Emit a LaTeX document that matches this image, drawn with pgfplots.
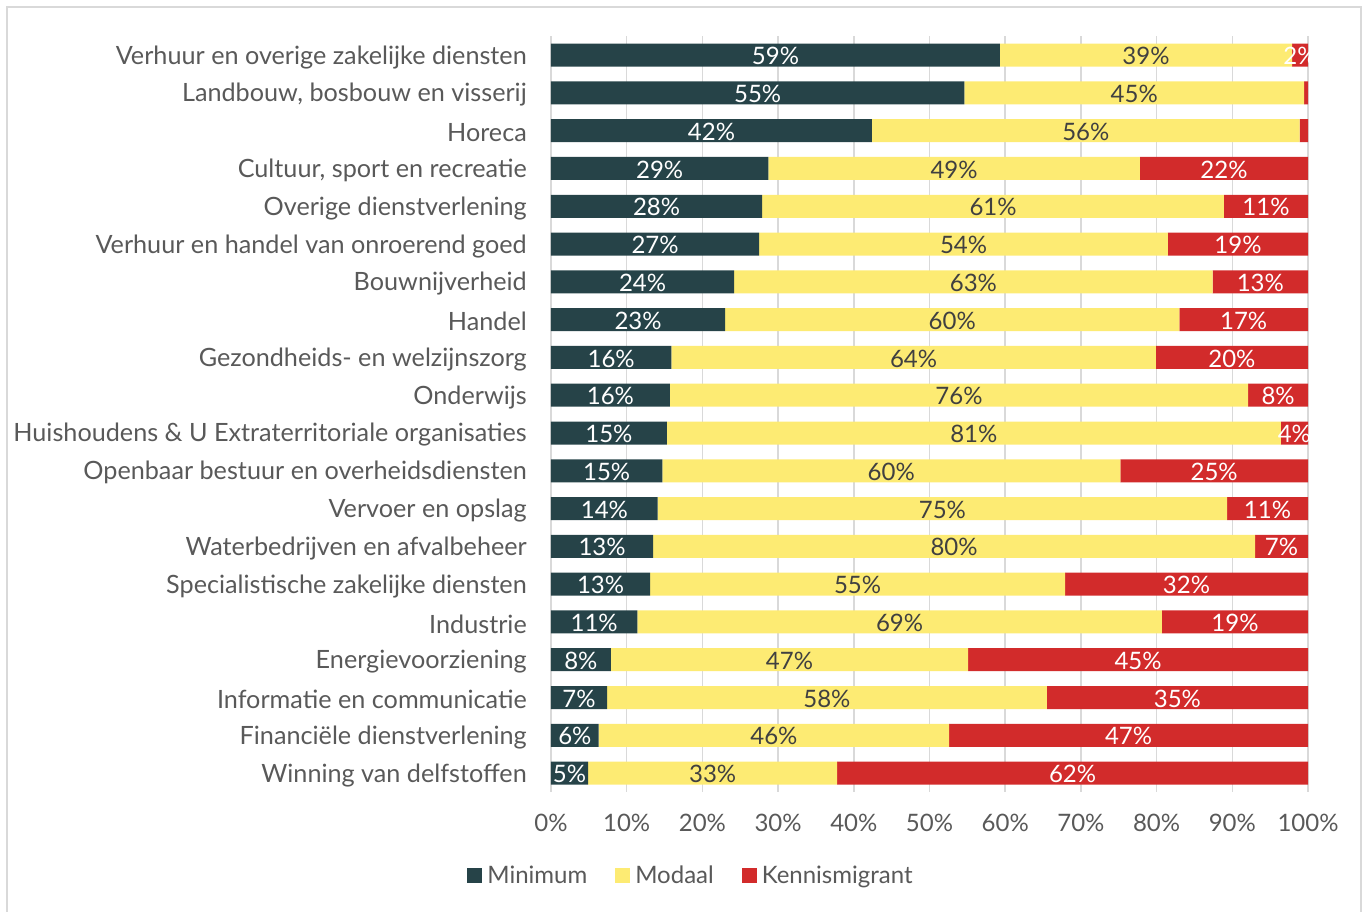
\documentclass[border=0pt]{standalone}
\usepackage{pgfplots}
\usepackage{pgfplotstable}
\pgfplotsset{compat=1.18}
\usepackage{fontspec}
\setmainfont{Lato}
\definecolor{cmin}{HTML}{264348}
\definecolor{cmod}{HTML}{FDEB73}
\definecolor{cken}{HTML}{D22B2B}
\definecolor{txt}{HTML}{595959}
\definecolor{ytxt}{HTML}{404040}
\definecolor{grd}{HTML}{D9D9D9}

\pgfplotstableread[col sep=comma]{
min,mod,ken,lmin,lmod,lken
59.3,38.6,2.1,59,39,2
54.6,44.9,0.5,55,45,0
42.4,56.5,1.1,42,56,1
28.7,49.1,22.2,29,49,22
27.9,61.0,11.1,28,61,11
27.5,54.0,18.5,27,54,19
24.2,63.2,12.6,24,63,13
23.0,60.0,17.0,23,60,17
15.9,64.0,20.1,16,64,20
15.7,76.4,7.9,16,76,8
15.3,81.1,3.6,15,81,4
14.7,60.5,24.8,15,60,25
14.1,75.2,10.7,14,75,11
13.5,79.5,7.0,13,80,7
13.1,54.8,32.1,13,55,32
11.4,69.3,19.3,11,69,19
7.9,47.2,44.9,8,47,45
7.4,58.1,34.5,7,58,35
6.3,46.3,47.4,6,46,47
4.9,32.9,62.2,5,33,62
}\datatable

\newcommand{\lfont}{\fontsize{24}{28}\selectfont}
\newcommand{\yfont}{\fontsize{25.2}{29}\selectfont}

\pgfplotsset{
  base/.style={
    scale only axis,
    width=757pt, height=755.8pt,
    at={(0pt,0pt)}, anchor=south west,
    xmin=0, xmax=100,
    ymin=-0.5, ymax=19.5,
    y dir=reverse,
  },
}

\begin{document}
\begin{tikzpicture}
\useasboundingbox (-551pt,-119pt) rectangle (819pt,792pt);
\draw[grd, line width=1.2pt] (-544pt,-130pt) rectangle (810pt,785pt);
\begin{axis}[
  base,
  xbar stacked,
  bar width=23pt,
  axis line style={draw=none},
  tick style={draw=none},
  xmajorgrids, grid style={grd, line width=1.5pt},
  xtick={0,10,...,100},
  xticklabel={\pgfmathprintnumber{\tick}\%},
  /pgf/number format/assume math mode=true,
  xticklabel style={font=\lfont, text=txt, inner sep=0pt, anchor=north, yshift=-22pt},
  ytick={0,...,19},
  yticklabels={
    Verhuur en overige zakelijke diensten,
    {Landbouw, bosbouw en visserij},
    Horeca,
    {Cultuur, sport en recreatie},
    Overige dienstverlening,
    Verhuur en handel van onroerend goed,
    Bouwnijverheid,
    Handel,
    Gezondheids- en welzijnszorg,
    Onderwijs,
    Huishoudens \& U Extraterritoriale organisaties,
    Openbaar bestuur en overheidsdiensten,
    Vervoer en opslag,
    Waterbedrijven en afvalbeheer,
    Specialistische zakelijke diensten,
    Industrie,
    Energievoorziening,
    Informatie en communicatie,
    Financiële dienstverlening,
    Winning van delfstoffen},
  yticklabel style={font=\yfont, text=txt, inner sep=0pt, anchor=east, xshift=-24pt, yshift=-2pt},
  legend columns=3,
  legend style={draw=none, font=\lfont, text=txt, at={(0.185,-0.111)}, anchor=center,
    /tikz/every odd column/.append style={column sep=3pt},
    /tikz/every even column/.append style={column sep=26pt}},
  legend image code/.code={\fill[#1] (0pt,-7pt) rectangle (15pt,8pt);},
]
\addplot[fill=cmin, draw=none] table[x=min, y expr=\coordindex] {\datatable};
\addplot[fill=cmod, draw=none] table[x=mod, y expr=\coordindex] {\datatable};
\addplot[fill=cken, draw=none] table[x=ken, y expr=\coordindex] {\datatable};
\legend{Minimum, Modaal, Kennismigrant}
\end{axis}
\begin{axis}[
  base,
  axis lines=none,
  ticks=none,
  nodes near coords={\pgfplotspointmeta\%},
  point meta=explicit symbolic,
  every node near coord/.append style={font=\lfont, anchor=center, inner sep=0pt, yshift=-1pt},
]
\addplot[only marks, mark=none, nodes near coords style={text=white}]
  table[x expr=\thisrow{min}/2, y expr=\coordindex, meta=lmin] {\datatable};
\addplot[only marks, mark=none, nodes near coords style={text=ytxt}]
  table[x expr=\thisrow{min}+\thisrow{mod}/2, y expr=\coordindex, meta=lmod] {\datatable};
\addplot[only marks, mark=none, nodes near coords style={text=white}, skip coords between index={1}{3}]
  table[x expr=\thisrow{min}+\thisrow{mod}+\thisrow{ken}/2, y expr=\coordindex, meta=lken] {\datatable};
\end{axis}
\end{tikzpicture}
\end{document}
